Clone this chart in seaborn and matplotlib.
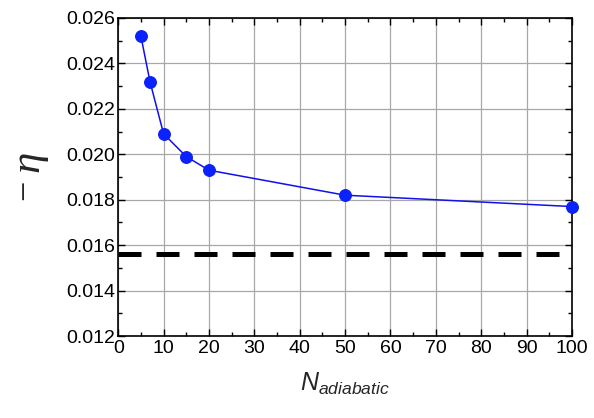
import matplotlib
matplotlib.use("Agg")
import matplotlib.pyplot as plt
from matplotlib.ticker import MultipleLocator, FormatStrFormatter
import seaborn as sns
import pandas as pd

# Adiabatic step count vs. -eta
n_adiabatic = [5, 7, 10, 15, 20, 50, 100]
neg_eta = [0.0252, 0.0232, 0.0209, 0.0199, 0.0193, 0.0182, 0.0177]
reference_level = 0.01563

sns.set_theme(style="ticks")
plt.rcParams["font.family"] = ["Liberation Sans", "DejaVu Sans"]
plt.rcParams["mathtext.fontset"] = "custom"
plt.rcParams["mathtext.it"] = "Liberation Sans:italic"
plt.rcParams["mathtext.rm"] = "Liberation Sans"

df = pd.DataFrame({"N": n_adiabatic, "eta": neg_eta})

fig = plt.figure(figsize=(5.94, 4.18), dpi=100)
ax = fig.add_axes([0.199, 0.196, 0.764, 0.761])

ax.axhline(reference_level, color="black", lw=3.6, dashes=(4.6, 3.0), zorder=3)
sns.lineplot(data=df, x="N", y="eta", ax=ax, color="#1010ee", lw=1.1,
             marker="o", markersize=8.5, markeredgecolor="#0a1ef0",
             markerfacecolor="#0a22ff", zorder=4, clip_on=False)

ax.set_xlim(0, 100)
ax.set_ylim(0.012, 0.026)
ax.xaxis.set_major_locator(MultipleLocator(10))
ax.xaxis.set_minor_locator(MultipleLocator(5))
ax.yaxis.set_major_locator(MultipleLocator(0.002))
ax.yaxis.set_minor_locator(MultipleLocator(0.001))
ax.yaxis.set_major_formatter(FormatStrFormatter("%.3f"))

ax.grid(True, which="major", color="#a8a8a8", lw=0.9)
ax.tick_params(which="both", direction="in", top=True, right=True,
               labelsize=14, colors="black", width=1.0)
ax.tick_params(which="major", length=5)
ax.tick_params(axis="x", which="major", pad=3)
ax.tick_params(axis="y", which="major", pad=2)
ax.tick_params(which="minor", length=3)
for s in ax.spines.values():
    s.set_color("black")
    s.set_linewidth(1.2)

ax.set_xlabel(r"$\mathit{N}_{\mathit{adiabatic}}$", fontsize=18, labelpad=10)
ax.set_ylabel("")
fig.text(0.043, 0.545, "\u2212", rotation=90, fontsize=26, ha="center",
         va="center", family="Liberation Serif")
fig.text(0.048, 0.615, "\u03b7", rotation=90, fontsize=31, ha="center",
         va="center", family="Liberation Serif", style="italic")

fig.savefig("out.png", dpi=100)
